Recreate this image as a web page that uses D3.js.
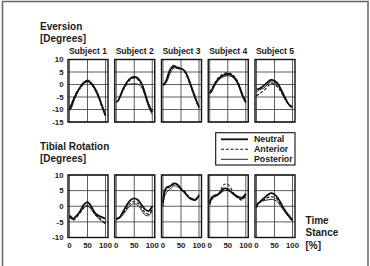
<!DOCTYPE html>
<html>
<head>
<meta charset="utf-8">
<script src="https://cdn.jsdelivr.net/npm/d3@7"></script>
<style>
  body { margin: 0; background: #fff; }
  text { font-family: "Liberation Sans", Arial, sans-serif; font-weight: bold; fill: #1a1a1a; }
</style>
</head>
<body>
<script>
// percent of stance for every sample
const stance = [0, 5, 10, 20, 30, 40, 50, 60, 70, 80, 90, 100];

const subjects = ["Subject 1", "Subject 2", "Subject 3", "Subject 4", "Subject 5"];
const conditions = ["Neutral", "Anterior", "Posterior"];

const eversionTicks = [10, 5, 0, -5, -10, -15];
const tibialTicks = [10, 5, 0, -5, -10];
const timeTicks = [0, 50, 100];

// eversion [deg], one array per subject, neutral / anterior / posterior
const eversionS1 = [
  [-10, -8.5, -6.5, -3.5, -1, 0.8, 1.5, 0.5, -1.5, -4.5, -8.5, -12.5],
  [-9, -8, -6, -3, -1.5, 0.3, 1.2, 0.3, -2, -5, -9, -12],
  [-10.5, -9.5, -7.5, -3.8, -1.2, 0.5, 1.8, 0.8, -1.2, -4, -8, -12],
];
const eversionS2 = [
  [-7, -6.5, -5, -1.5, 1, 2.5, 3, 2.5, 0.5, -3.5, -8, -11],
  [-7, -6.5, -5, -2, 0.5, 2, 2.6, 2, 0, -4, -8.5, -11.5],
  [-7, -6.5, -5.2, -2, 0, 0.2, 0.2, 0.1, -1, -4.5, -9, -12],
];
const eversionS3 = [
  [0, 0.5, 2, 6, 7.5, 6.5, 6.3, 5.5, 2.5, -1.5, -5.5, -9],
  [-0.3, 0, 1.5, 5.5, 7, 6.8, 6.5, 5, 2, -2, -6, -9.5],
  [0, 0.3, 1, 4.5, 6.5, 7, 6.5, 5.5, 3, -1, -5, -9],
];
const eversionS4 = [
  [-3.5, -2.5, -1, 1.5, 3, 3.8, 4.2, 3.8, 2.5, 0, -4, -7],
  [-3, -2, -0.5, 2, 3.5, 4.5, 4.6, 4.2, 3, 0.5, -3.5, -6.5],
  [-3.8, -3, -1.5, 1, 2.5, 3.2, 3.5, 3.2, 2, -0.5, -4.5, -7.5],
];
const eversionS5 = [
  [-2, -1.8, -1.5, -0.5, 0.8, 1.8, 1.5, 0.2, -2.5, -5.5, -8, -9],
  [-4.5, -4, -3.5, -2.5, -1, 0.3, 0, -1.2, -3.5, -6, -8.3, -9.5],
  [-3, -2.5, -2, -1.5, 0, 1, 0.8, -0.5, -3, -6, -8, -9.5],
];

// tibial rotation [deg]
const tibialS1 = [
  [-3, -3.5, -4, -3, -1.5, 0.5, 1.3, 0, -2, -3, -3.5, -4],
  [-3.5, -4, -4.5, -3.5, -2, -0.5, 0.3, -0.5, -2.5, -3.5, -4.5, -5.5],
  [-3, -3.8, -4.2, -3.2, -1.8, -0.5, 0, -1, -2.5, -3.8, -4.8, -5.8],
];
const tibialS2 = [
  [-4, -3.8, -3.5, -1.5, 0.5, 2, 2.5, 2, 0.5, -1, -1.5, 0],
  [-4.2, -4, -3.5, -2, -0.5, 1, 1.5, 1, -0.5, -2, -2.5, -1],
  [-4, -4, -3.8, -2.5, -1, 0.3, 0.8, 0.3, -1.2, -2.8, -3, -1.5],
];
const tibialS3 = [
  [1, 5, 6, 6.5, 7.3, 7, 5.5, 4.5, 3, 2.2, 2, 3.5],
  [0, 4.5, 5.5, 6.3, 7, 6.8, 5.8, 4.8, 3.3, 2.5, 2.2, 3.3],
  [1, 3.5, 4.5, 5.5, 6.5, 6.3, 5.3, 4.2, 3, 2.5, 2.3, 3.8],
];
const tibialS4 = [
  [1, 2.5, 3, 3.5, 4.5, 5.7, 5.5, 4.5, 3.5, 2.8, 2.5, 4],
  [0.5, 2, 2.8, 3.5, 5, 7, 7, 5.5, 3.5, 2.5, 2, 3.5],
  [1.5, 3, 3.5, 3.8, 4.2, 5, 5, 4.5, 3.8, 3.2, 3, 4.2],
];
const tibialS5 = [
  [0, 1, 1.5, 2.5, 3.5, 4.2, 3.8, 2.5, 0.5, -1.5, -3, -4.5],
  [-0.5, 0.8, 1.3, 2, 2.7, 3, 2.8, 1.8, 0, -1.8, -3.3, -4.7],
  [0.5, 1, 1.3, 1.8, 2, 2.2, 2, 1.2, -0.5, -2, -3.5, -4.8],
];

const eversion = [eversionS1, eversionS2, eversionS3, eversionS4, eversionS5];
const tibial = [tibialS1, tibialS2, tibialS3, tibialS4, tibialS5];

const width = 370;
const height = 266;

const svg = d3
  .select("body")
  .append("svg")
  .attr("width", width)
  .attr("height", height);

// grey frame round the whole figure
svg
  .append("rect")
  .attr("x", 2.5)
  .attr("y", 1.5)
  .attr("width", 365.5)
  .attr("height", 280)
  .attr("fill", "none")
  .attr("stroke", "#666")
  .attr("stroke-width", 1.5);

const panelW = 40;
const panelLeft = d3.scaleLinear().domain([0, 4]).range([68, 255]);

const lineStyles = [
  { width: 1.8, dash: null },
  { width: 1.1, dash: "3,1.8" },
  { width: 0.9, dash: null },
];

function drawRow(rows, ticks, yDomain, yRange) {
  const y = d3.scaleLinear().domain(yDomain).range(yRange);

  // y tick labels at the left of the first panel
  svg
    .append("g")
    .selectAll("text")
    .data(ticks)
    .join("text")
    .attr("x", 63.5)
    .attr("y", (d) => y(d) + 2.8)
    .attr("text-anchor", "end")
    .style("font-size", "7.8px")
    .text((d) => d);

  rows.forEach((series, i) => {
    const x0 = panelLeft(i);
    const x = d3.scaleLinear().domain([0, 100]).range([x0 + 1.5, x0 + 37.5]);
    const g = svg.append("g");

    g.selectAll(".hgrid")
      .data(ticks)
      .join("line")
      .attr("x1", x0)
      .attr("x2", x0 + panelW)
      .attr("y1", (d) => y(d))
      .attr("y2", (d) => y(d))
      .attr("stroke", "#333")
      .attr("stroke-width", 0.8);

    g.selectAll(".vgrid")
      .data(timeTicks)
      .join("line")
      .attr("x1", (d) => x(d))
      .attr("x2", (d) => x(d))
      .attr("y1", yRange[1])
      .attr("y2", yRange[0])
      .attr("stroke", "#333")
      .attr("stroke-width", 0.8);

    const line = d3
      .line()
      .x((d, j) => x(stance[j]))
      .y((d) => y(d))
      .curve(d3.curveCatmullRom);

    series.forEach((vals, k) => {
      g.append("path")
        .attr("d", line(vals))
        .attr("fill", "none")
        .attr("stroke", "#111")
        .attr("stroke-width", lineStyles[k].width)
        .attr("stroke-dasharray", lineStyles[k].dash);
    });

    g.append("rect")
      .attr("x", x0)
      .attr("y", yRange[1])
      .attr("width", panelW)
      .attr("height", yRange[0] - yRange[1])
      .attr("fill", "none")
      .attr("stroke", "#111")
      .attr("stroke-width", 1.4);
  });
  return y;
}

drawRow(eversion, eversionTicks, [-15, 10], [122, 59.5]);
drawRow(tibial, tibialTicks, [-10, 10], [237.5, 175]);

// subject labels
svg
  .append("g")
  .selectAll("text")
  .data(subjects)
  .join("text")
  .attr("x", (d, i) => panelLeft(i) + panelW / 2)
  .attr("y", 54)
  .attr("text-anchor", "middle")
  .style("font-size", "8.6px")
  .text((d) => d);

// time ticks under the lower row
subjects.forEach((s, i) => {
  const x0 = panelLeft(i);
  const x = d3.scaleLinear().domain([0, 100]).range([x0 + 1.5, x0 + 37.5]);
  svg
    .append("g")
    .selectAll("text")
    .data(timeTicks)
    .join("text")
    .attr("x", (d) => x(d))
    .attr("y", 248)
    .attr("text-anchor", "middle")
    .style("font-size", "7.8px")
    .text((d) => d);
});

// row titles
const titles = [
  { text: "Eversion", y: 30 },
  { text: "[Degrees]", y: 42 },
  { text: "Tibial Rotation", y: 150 },
  { text: "[Degrees]", y: 162 },
];
svg
  .append("g")
  .selectAll("text")
  .data(titles)
  .join("text")
  .attr("x", 40)
  .attr("y", (d) => d.y)
  .style("font-size", "10px")
  .text((d) => d.text);

// x axis title
const axisTitle = ["Time", "Stance", "[%]"];
svg
  .append("g")
  .selectAll("text")
  .data(axisTitle)
  .join("text")
  .attr("x", 305.5)
  .attr("y", (d, i) => 224 + i * 12.3)
  .style("font-size", "10px")
  .text((d) => d);

// legend
const legend = svg.append("g");
legend
  .append("rect")
  .attr("x", 215.7)
  .attr("y", 132.7)
  .attr("width", 79.3)
  .attr("height", 32.3)
  .attr("fill", "#fff")
  .attr("stroke", "#111")
  .attr("stroke-width", 1.1);

conditions.forEach((c, k) => {
  const ly = 139.3 + k * 10;
  legend
    .append("line")
    .attr("x1", 221)
    .attr("x2", 248)
    .attr("y1", ly)
    .attr("y2", ly)
    .attr("stroke", "#111")
    .attr("stroke-width", lineStyles[k].width)
    .attr("stroke-dasharray", lineStyles[k].dash);
  legend
    .append("text")
    .attr("x", 254)
    .attr("y", ly + 3)
    .style("font-size", "8.8px")
    .text(c);
});
</script>
</body>
</html>
